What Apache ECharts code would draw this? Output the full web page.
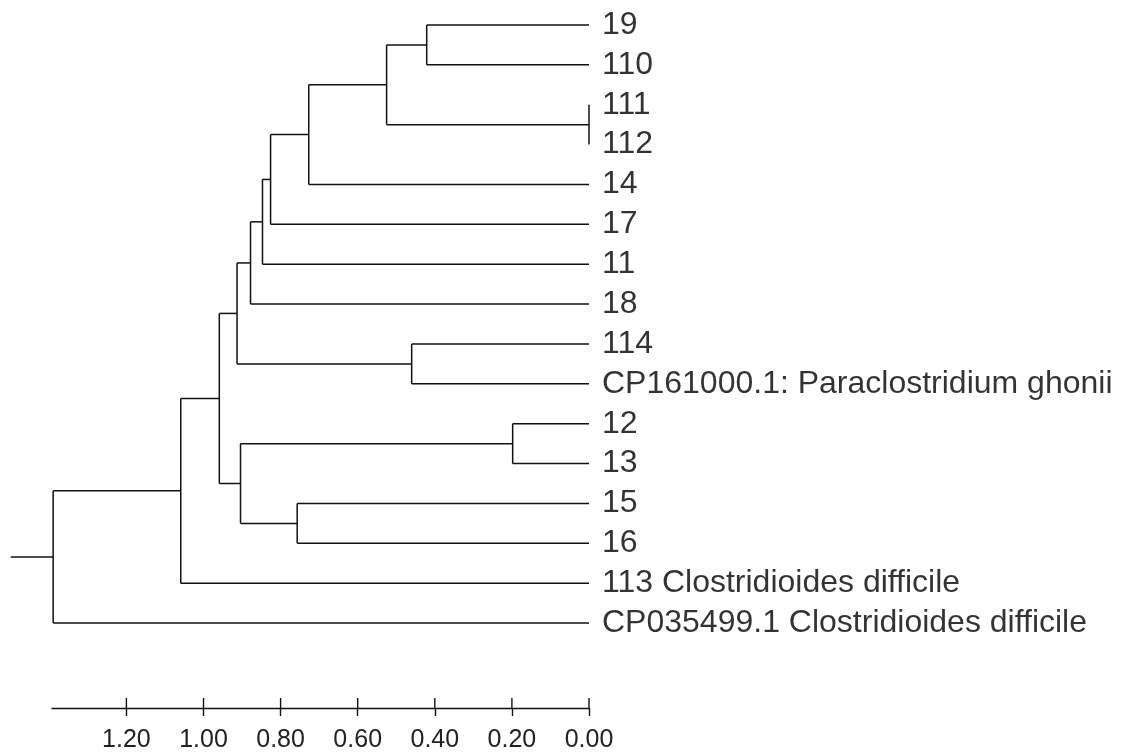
<!DOCTYPE html>
<html>
<head>
<meta charset="utf-8">
<script src="https://cdn.jsdelivr.net/npm/echarts@6/dist/echarts.min.js"></script>
<style>
  html, body { margin: 0; padding: 0; background: #fff; }
  #chart { width: 1127px; height: 754px; }
</style>
</head>
<body>
<div id="chart"></div>
<script>
// leaf labels, top to bottom
const leaves = ['19', '110', '111', '112', '14', '17', '11', '18', '114',
  'CP161000.1: Paraclostridium ghonii', '12', '13', '15', '16',
  '113 Clostridioides difficile', 'CP035499.1 Clostridioides difficile'];

// merges: ids 0..15 are leaves, merge k gets id 16 + k
const mergeLeft   = [0, 2, 16, 18, 19, 20, 21, 8, 22, 10, 12, 25, 24, 28, 29];
const mergeRight  = [1, 3, 17, 4, 5, 6, 7, 9, 23, 11, 13, 26, 27, 14, 15];
const mergeHeight = [0.421, 0.0, 0.525, 0.727, 0.826, 0.847, 0.878, 0.460,
  0.913, 0.198, 0.757, 0.904, 0.959, 1.059, 1.390];

const rootStub = 1.50;
const axisMax = 1.393;
const tickValues = [0, 0.2, 0.4, 0.6, 0.8, 1.0, 1.2];

// node positions: x = height, y = row (mean of children)
const nodeX = leaves.map(() => 0);
const nodeY = leaves.map((_, i) => i);
const segments = [];
for (let k = 0; k < mergeHeight.length; k++) {
  const a = mergeLeft[k], b = mergeRight[k], h = mergeHeight[k];
  segments.push([nodeX[a], nodeY[a], h, nodeY[a]]);
  segments.push([nodeX[b], nodeY[b], h, nodeY[b]]);
  segments.push([h, nodeY[a], h, nodeY[b]]);
  nodeX.push(h);
  nodeY.push((nodeY[a] + nodeY[b]) / 2);
}
const root = nodeX.length - 1;
segments.push([nodeX[root], nodeY[root], rootStub, nodeY[root]]);

const yMax = 17.13;
const ink = '#111';
const font = '"Liberation Sans", Arial, sans-serif';
const chart = echarts.init(document.getElementById('chart'));

chart.setOption({
  animation: false,
  backgroundColor: '#fff',
  grid: { left: 52, right: 538, top: 5, bottom: 46 },
  xAxis: {
    type: 'value', inverse: true, min: 0, max: axisMax, position: 'bottom',
    splitLine: { show: false },
    axisLine: { show: true, onZero: false, lineStyle: { color: ink, width: 1.4 } },
    axisTick: { show: true, inside: false, length: 8, customValues: tickValues,
      lineStyle: { color: ink, width: 1.4 } },
    axisLabel: { show: true, customValues: tickValues, margin: 20,
      fontSize: 25, fontFamily: font, color: '#222',
      formatter: v => v.toFixed(2) }
  },
  yAxis: {
    type: 'value', inverse: true, min: -0.5, max: yMax, show: false
  },
  series: [{
    type: 'custom',
    clip: false,
    silent: true,
    data: segments,
    renderItem: function (params, api) {
      const p1 = api.coord([api.value(0), api.value(1)]);
      const p2 = api.coord([api.value(2), api.value(3)]);
      return {
        type: 'line',
        shape: { x1: p1[0], y1: p1[1], x2: p2[0], y2: p2[1] },
        style: { stroke: ink, lineWidth: 1.5 }
      };
    }
  }, {
    // upper half of the scale ticks (they cross the axis line)
    type: 'custom',
    clip: false,
    silent: true,
    data: tickValues,
    renderItem: function (params, api) {
      const p = api.coord([api.value(0), yMax]);
      return {
        type: 'line',
        shape: { x1: p[0], y1: p[1], x2: p[0], y2: p[1] - 10 },
        style: { stroke: ink, lineWidth: 1.4 }
      };
    }
  }, {
    type: 'scatter',
    symbolSize: 0,
    silent: true,
    data: leaves.map((name, i) => ({ name: name, value: [0, i] })),
    label: {
      show: true, position: 'right', distance: 13,
      formatter: p => p.name,
      fontSize: 32, fontFamily: font, color: '#000'
    }
  }]
});
</script>
</body>
</html>
